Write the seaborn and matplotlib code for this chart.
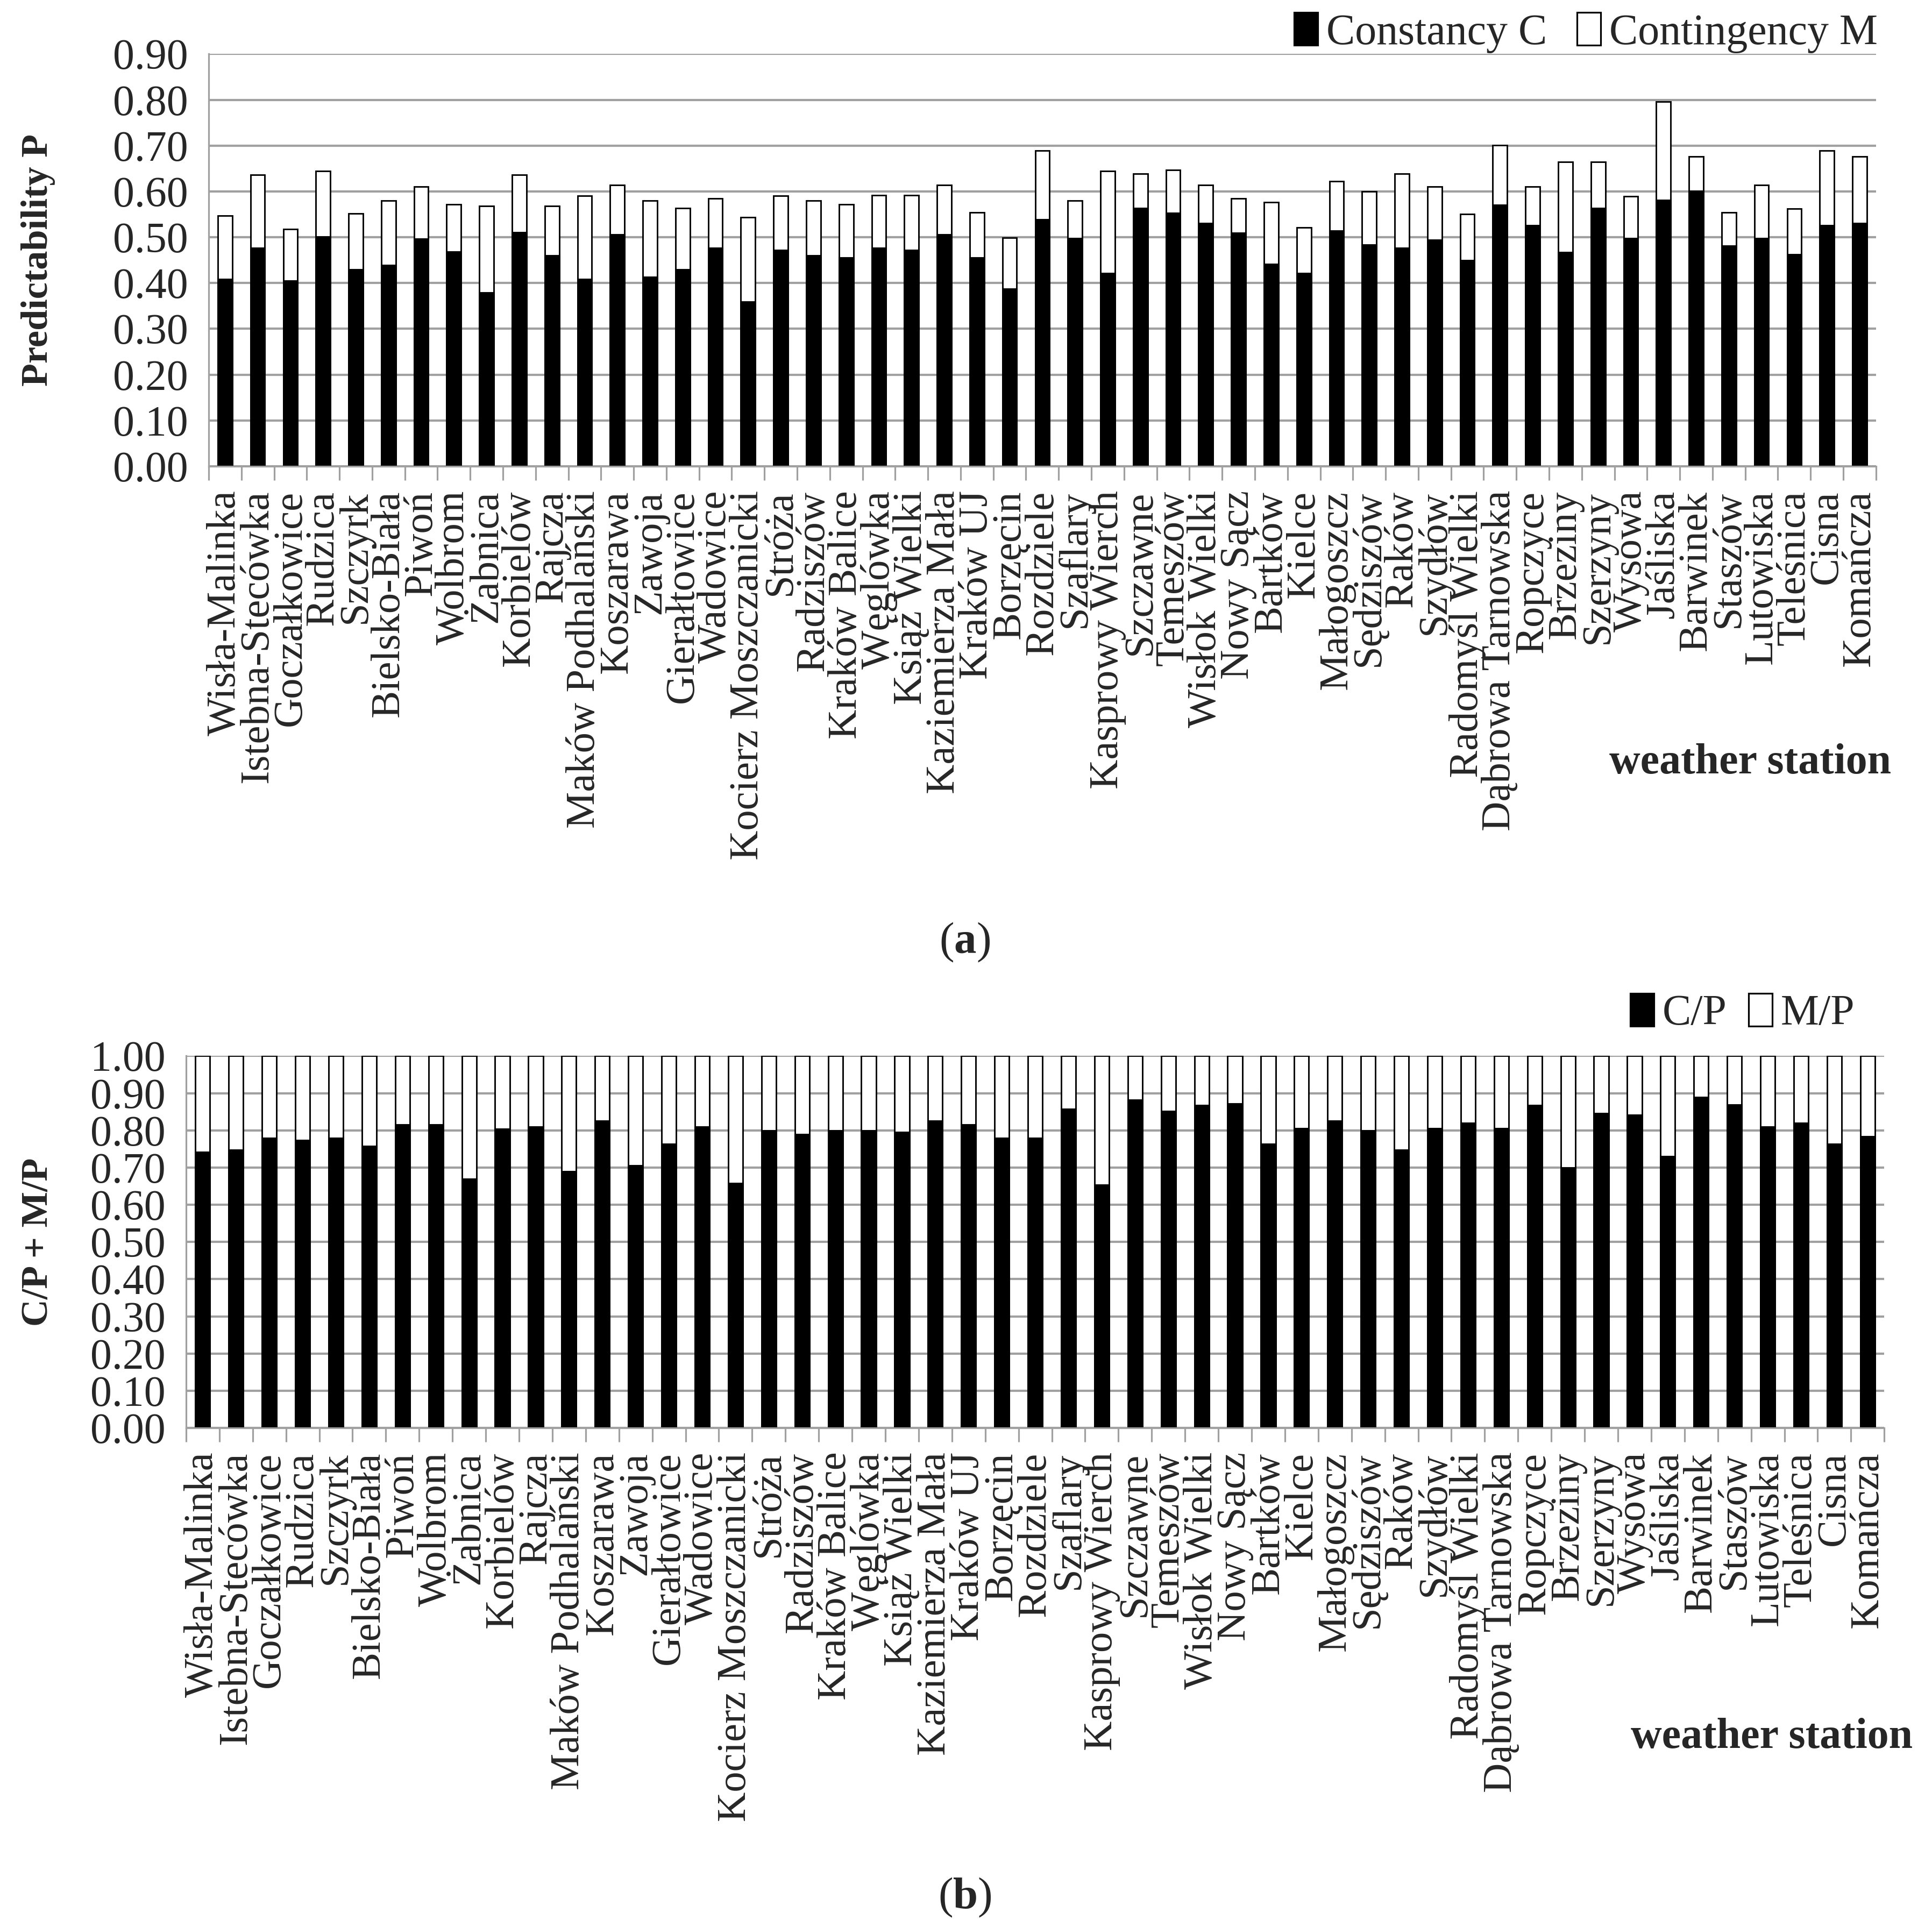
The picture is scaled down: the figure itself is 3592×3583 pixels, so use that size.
import matplotlib
matplotlib.use("Agg")
import matplotlib.pyplot as plt
from matplotlib.patches import Patch
from matplotlib.ticker import MultipleLocator, FixedLocator
import seaborn as sns

# Station names (same order in both panels)
stations = [
    "Wisła-Malinka", "Istebna-Stecówka", "Goczałkowice", "Rudzica", "Szczyrk",
    "Bielsko-Biała", "Piwoń", "Wolbrom", "Żabnica", "Korbielów", "Rajcza",
    "Maków Podhalański", "Koszarawa", "Zawoja", "Gierałtowice", "Wadowice",
    "Kocierz Moszczanicki", "Stróża", "Radziszów", "Kraków Balice", "Węglówka",
    "Książ Wielki", "Kaziemierza Mała", "Kraków UJ", "Borzęcin", "Rozdziele",
    "Szaflary", "Kasprowy Wierch", "Szczawne", "Temeszów", "Wisłok Wielki",
    "Nowy Sącz", "Bartków", "Kielce", "Małogoszcz", "Sędziszów", "Raków",
    "Szydłów", "Radomyśl Wielki", "Dąbrowa Tarnowska", "Ropczyce", "Brzeziny",
    "Szerzyny", "Wysowa", "Jaśliska", "Barwinek", "Staszów", "Lutowiska",
    "Teleśnica", "Cisna", "Komańcza",
]

# (a) predictability P = C + M (bar top) and constancy C (black part)
predictability = [
    0.547, 0.636, 0.518, 0.644, 0.552, 0.580, 0.611, 0.572, 0.568, 0.636, 0.568,
    0.590, 0.614, 0.580, 0.563, 0.585, 0.543, 0.590, 0.580, 0.572, 0.592,
    0.592, 0.614, 0.554, 0.499, 0.689, 0.580, 0.644, 0.639, 0.647, 0.614,
    0.585, 0.577, 0.521, 0.622, 0.600, 0.639, 0.610, 0.551, 0.701, 0.610,
    0.664, 0.664, 0.589, 0.796, 0.676, 0.554, 0.614, 0.562, 0.689, 0.676,
]
constancy = [
    0.408, 0.477, 0.405, 0.501, 0.430, 0.439, 0.497, 0.469, 0.379, 0.511, 0.460,
    0.408, 0.506, 0.413, 0.430, 0.477, 0.359, 0.472, 0.460, 0.455, 0.477,
    0.472, 0.506, 0.455, 0.388, 0.539, 0.498, 0.421, 0.564, 0.553, 0.531,
    0.509, 0.442, 0.421, 0.514, 0.484, 0.477, 0.494, 0.450, 0.570, 0.526,
    0.467, 0.564, 0.498, 0.581, 0.601, 0.481, 0.498, 0.463, 0.526, 0.531,
]

# (b) share of constancy C/P; C/P + M/P = 1 for every station
cp_ratio = [
    0.742, 0.747, 0.779, 0.773, 0.779, 0.758, 0.815, 0.815, 0.669, 0.804, 0.810,
    0.690, 0.826, 0.706, 0.763, 0.810, 0.658, 0.799, 0.789, 0.799, 0.799,
    0.795, 0.826, 0.815, 0.779, 0.779, 0.857, 0.653, 0.882, 0.852, 0.867,
    0.872, 0.764, 0.805, 0.826, 0.800, 0.747, 0.805, 0.820, 0.805, 0.867,
    0.700, 0.846, 0.841, 0.731, 0.889, 0.869, 0.810, 0.820, 0.764, 0.784,
]
ratio_total = [1.00] * len(stations)

sns.set_style("white")
plt.rcParams["font.family"] = ["Liberation Serif", "DejaVu Serif"]
plt.rcParams["mathtext.fontset"] = "custom"
plt.rcParams["mathtext.rm"] = "Liberation Serif"
plt.rcParams["mathtext.bf"] = "Liberation Serif:bold"

GRID = "#a0a0a0"

fig = plt.figure(figsize=(3592 / 230, 3583 / 230), dpi=230)
ax_a = fig.add_axes([0.108, 0.758, 0.863, 0.214])
ax_b = fig.add_axes([0.0963, 0.259, 0.879, 0.193])


def stacked(ax, total, lower, ymax, ylabel, label_x):
    sns.barplot(x=stations, y=total, color="white", edgecolor="black",
                linewidth=0.9, width=0.44, saturation=1, ax=ax)
    sns.barplot(x=stations, y=lower, color="black", edgecolor="black",
                linewidth=0.9, width=0.44, saturation=1, ax=ax)
    ax.set_xlim(-0.5, len(stations) - 0.5)
    ax.set_ylim(0, ymax)
    ax.yaxis.set_major_locator(MultipleLocator(0.1))
    ax.set_yticklabels([f"{v:.2f}" for v in ax.get_yticks()])
    ax.set_axisbelow(True)
    ax.yaxis.grid(True, color=GRID, linewidth=1.3)
    for side in ["top", "right"]:
        ax.spines[side].set_visible(False)
    for side in ["left", "bottom"]:
        ax.spines[side].set_color(GRID)
        ax.spines[side].set_linewidth(1.0)
    ax.tick_params(axis="y", length=8, width=1.3, color=GRID, labelsize=25, pad=4)
    # category boundary ticks, labels centred on bars
    ax.xaxis.set_minor_locator(FixedLocator([i - 0.5 for i in range(len(stations) + 1)]))
    ax.tick_params(axis="x", which="minor", length=8, width=1.0, color=GRID, bottom=True)
    ax.tick_params(axis="x", which="major", length=0, pad=14, labelsize=24)
    for lab in ax.get_xticklabels():
        lab.set_rotation(90)
        lab.set_va("top")
        lab.set_ha("center")
    ax.set_xlabel("")
    ax.set_ylabel(ylabel, fontsize=22, fontweight="bold")
    ax.yaxis.set_label_coords(label_x, 0.5)


stacked(ax_a, predictability, constancy, 0.9, "Predictability P", -0.092)
stacked(ax_b, ratio_total, cp_ratio, 1.0, "C/P + M/P", -0.077)

fig.legend(handles=[Patch(facecolor="black", edgecolor="black", label="Constancy C"),
                    Patch(facecolor="white", edgecolor="black", label="Contingency M")],
           loc="center right", bbox_to_anchor=(0.992, 0.983), ncol=2, frameon=False,
           fontsize=25, handlelength=0.55, handleheight=0.8,
           handletextpad=0.2, columnspacing=0.7)
fig.legend(handles=[Patch(facecolor="black", edgecolor="black", label="C/P"),
                    Patch(facecolor="white", edgecolor="black", label="M/P")],
           loc="center right", bbox_to_anchor=(0.98, 0.474), ncol=2, frameon=False,
           fontsize=25, handlelength=0.55, handleheight=0.8,
           handletextpad=0.2, columnspacing=0.5)

fig.text(0.906, 0.604, "weather station", ha="center", va="center",
         fontsize=25, fontweight="bold")
fig.text(0.917, 0.0985, "weather station", ha="center", va="center",
         fontsize=25, fontweight="bold")
fig.text(0.4994, 0.511, r"($\mathbf{a}$)", ha="center", va="center", fontsize=26)
fig.text(0.4994, 0.0153, r"($\mathbf{b}$)", ha="center", va="center", fontsize=26)

fig.savefig("out.png", dpi=230)
